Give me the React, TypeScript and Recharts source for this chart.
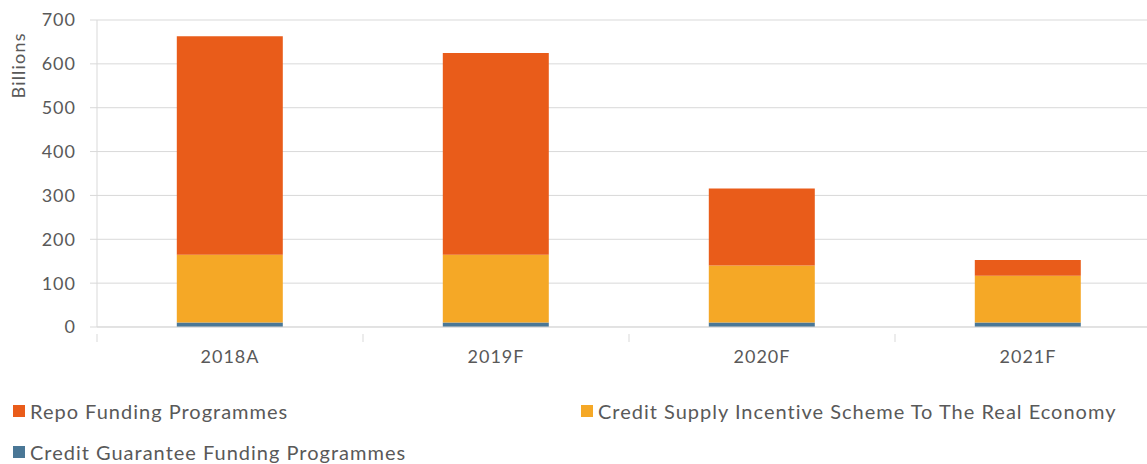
import { BarChart, Bar, XAxis, YAxis, CartesianGrid } from "recharts";

const years = ["2018A", "2019F", "2020F", "2021F"];
const guarantee = [10, 10, 10, 10];
const creditSupply = [155, 155, 130, 107];
const repo = [498, 460, 176, 36];
const yTicks = [0, 100, 200, 300, 400, 500, 600, 700];

const series = [
  { key: "guarantee", name: "Credit Guarantee Funding Programmes", color: "#4a7796" },
  { key: "creditSupply", name: "Credit Supply Incentive Scheme To The Real Economy", color: "#f5a826" },
  { key: "repo", name: "Repo Funding Programmes", color: "#e95c1a" },
];

const data = years.map((year, i) => ({
  year,
  guarantee: guarantee[i],
  creditSupply: creditSupply[i],
  repo: repo[i],
}));

const font = "Lato, 'Noto Sans', sans-serif";
const textColor = "#595959";
const gridColor = "#d9d9d9";

function CategoryTick(props: any) {
  const { x, y, payload, index } = props;
  const half = payload.offset ?? 133;
  return (
    <g>
      {index === 0 && (
        <line x1={x - half} x2={x - half} y1={y - 1} y2={y + 7} stroke={gridColor} />
      )}
      <line x1={x + half} x2={x + half} y1={y - 1} y2={y + 7} stroke={gridColor} />
      <text
        x={x}
        y={y + 28}
        textAnchor="middle"
        fill={textColor}
        fontSize={18}
        fontFamily={font}
        letterSpacing={1}
      >
        {payload.value}
      </text>
    </g>
  );
}

function LegendItem({ name, color, left, top }: { name: string; color: string; left: number; top: number }) {
  return (
    <div
      style={{
        position: "absolute",
        left,
        top,
        display: "flex",
        alignItems: "center",
        fontFamily: font,
        fontSize: 20,
        letterSpacing: 1,
        color: textColor,
        whiteSpace: "nowrap",
      }}
    >
      <span style={{ width: 12, height: 12, background: color, marginRight: 5, display: "inline-block" }} />
      {name}
    </div>
  );
}

export default function App() {
  return (
    <div
      style={{
        position: "absolute",
        left: 0,
        top: 0,
        width: 1147,
        height: 464,
        overflow: "hidden",
        background: "#fff",
      }}
    >
      <BarChart
        width={1161}
        height={370}
        data={data}
        margin={{ top: 20, right: 0, left: 0, bottom: 0 }}
        barCategoryGap="30%"
      >
        <CartesianGrid vertical={false} stroke={gridColor} />
        <XAxis
          dataKey="year"
          axisLine={{ stroke: gridColor }}
          tickLine={false}
          height={43}
          tick={<CategoryTick />}
          interval={0}
        />
        <YAxis
          width={97}
          domain={[0, 700]}
          ticks={yTicks}
          axisLine={{ stroke: gridColor }}
          tickLine={{ stroke: gridColor }}
          tickSize={7}
          tickMargin={14}
          tick={{ fill: textColor, fontSize: 18, fontFamily: font, letterSpacing: 1 }}
          label={{
            value: "Billions",
            angle: -90,
            position: "insideLeft",
            dx: 14,
            dy: -75,
            fill: textColor,
            fontSize: 18,
            fontFamily: font,
            letterSpacing: 1.2,
          }}
        />
        {series.map((s) => (
          <Bar
            key={s.key}
            dataKey={s.key}
            name={s.name}
            stackId="a"
            fill={s.color}
            isAnimationActive={false}
          />
        ))}
      </BarChart>
      <LegendItem name={series[2].name} color={series[2].color} left={13} top={399} />
      <LegendItem name={series[1].name} color={series[1].color} left={581} top={399} />
      <LegendItem name={series[0].name} color={series[0].color} left={13} top={440} />
    </div>
  );
}
